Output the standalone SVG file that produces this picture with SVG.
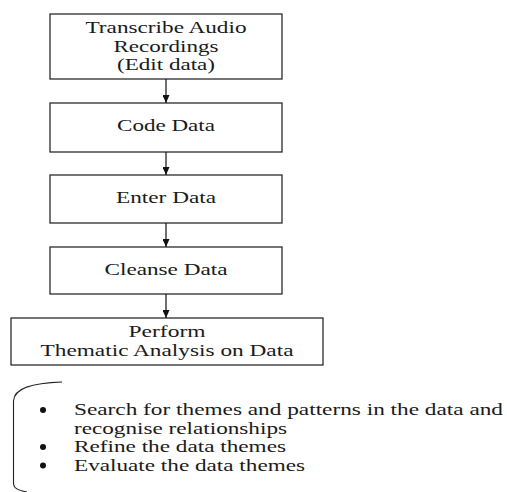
<svg xmlns="http://www.w3.org/2000/svg" width="507" height="492" viewBox="0 0 507 492">
  <defs>
    <style>
      .box { fill: #ffffff; stroke: #1a1a1a; stroke-width: 1.2; }
      .lbl { font-family: "Liberation Serif", "Times New Roman", serif; font-size: 17px; fill: #1a1a1a; }
      .link { stroke: #111111; stroke-width: 1.2; fill: none; }
      .brace { stroke: #222222; stroke-width: 1.1; fill: none; }
      .dot { fill: #111111; }
    </style>
    <marker id="tip" viewBox="0 0 8 7" refX="8" refY="3.5" markerWidth="8" markerHeight="7" markerUnits="userSpaceOnUse" orient="auto">
      <path d="M0,0 L8,3.5 L0,7 Z" fill="#111111"/>
    </marker>
  </defs>

  <rect width="507" height="492" fill="#ffffff"/>

  <!-- process steps -->
  <g id="transcribe">
    <rect class="box" x="50" y="14" width="232" height="65"/>
    <text class="lbl" x="166" y="33" text-anchor="middle" textLength="161" lengthAdjust="spacingAndGlyphs">Transcribe Audio</text>
    <text class="lbl" x="166" y="51.5" text-anchor="middle" textLength="105" lengthAdjust="spacingAndGlyphs">Recordings</text>
    <text class="lbl" x="166" y="70" text-anchor="middle" textLength="98" lengthAdjust="spacingAndGlyphs">(Edit data)</text>
  </g>

  <g id="code">
    <rect class="box" x="50" y="103" width="232" height="49"/>
    <text class="lbl" x="166" y="131" text-anchor="middle" textLength="98" lengthAdjust="spacingAndGlyphs">Code Data</text>
  </g>

  <g id="enter">
    <rect class="box" x="50" y="175" width="232" height="48"/>
    <text class="lbl" x="166" y="203" text-anchor="middle" textLength="100" lengthAdjust="spacingAndGlyphs">Enter Data</text>
  </g>

  <g id="cleanse">
    <rect class="box" x="50" y="247" width="232" height="47"/>
    <text class="lbl" x="166" y="275" text-anchor="middle" textLength="123" lengthAdjust="spacingAndGlyphs">Cleanse Data</text>
  </g>

  <g id="analysis">
    <rect class="box" x="11" y="318" width="312" height="47"/>
    <text class="lbl" x="167" y="337" text-anchor="middle" textLength="77" lengthAdjust="spacingAndGlyphs">Perform</text>
    <text class="lbl" x="167" y="356" text-anchor="middle" textLength="253" lengthAdjust="spacingAndGlyphs">Thematic Analysis on Data</text>
  </g>

  <!-- connectors between steps -->
  <g id="connectors">
    <line class="link" x1="166" y1="79" x2="166" y2="103" marker-end="url(#tip)"/>
    <line class="link" x1="166" y1="152" x2="166" y2="175" marker-end="url(#tip)"/>
    <line class="link" x1="166" y1="223" x2="166" y2="247" marker-end="url(#tip)"/>
    <line class="link" x1="166" y1="294" x2="166" y2="318" marker-end="url(#tip)"/>
  </g>

  <!-- analysis activities -->
  <g id="activities">
    <path class="brace" d="M62,382 C32,383 14,388 13.5,401 L13.5,484 Q14,490 27,492"/>
    <circle class="dot" cx="43" cy="410" r="3"/>
    <circle class="dot" cx="43" cy="447" r="3"/>
    <circle class="dot" cx="43" cy="465.5" r="3"/>
    <text class="lbl" x="74" y="415" textLength="429" lengthAdjust="spacingAndGlyphs">Search for themes and patterns in the data and</text>
    <text class="lbl" x="74" y="433.5" textLength="213" lengthAdjust="spacingAndGlyphs">recognise relationships</text>
    <text class="lbl" x="74" y="452" textLength="212" lengthAdjust="spacingAndGlyphs">Refine the data themes</text>
    <text class="lbl" x="74" y="470.5" textLength="231" lengthAdjust="spacingAndGlyphs">Evaluate the data themes</text>
  </g>
</svg>
